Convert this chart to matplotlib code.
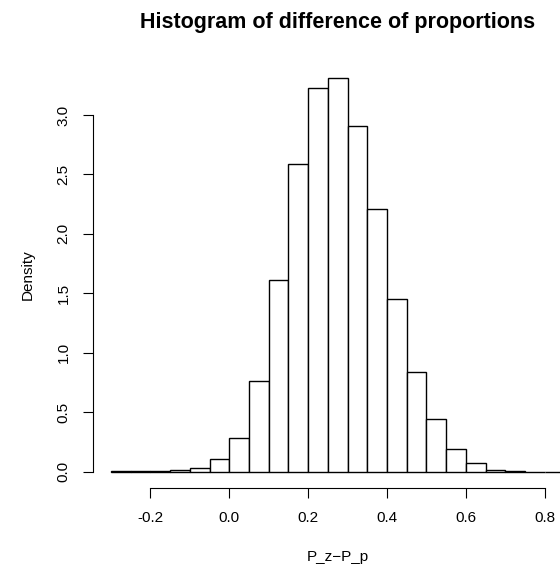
import matplotlib
matplotlib.use("Agg")
import matplotlib.pyplot as plt
import numpy as np

# histogram: bin edges (width 0.05) and density per bin
bin_left = [-0.30, -0.25, -0.20, -0.15, -0.10, -0.05, 0.00, 0.05, 0.10, 0.15,
            0.20, 0.25, 0.30, 0.35, 0.40, 0.45, 0.50, 0.55, 0.60, 0.65,
            0.70, 0.75, 0.80]
bin_width = 0.05
density = [0.003, 0.005, 0.006, 0.015, 0.034, 0.107, 0.285, 0.76, 1.616, 2.586,
           3.23, 3.31, 2.91, 2.21, 1.453, 0.836, 0.44, 0.195, 0.073, 0.016,
           0.006, 0.002, 0.001]

x_ticks = [-0.2, 0.0, 0.2, 0.4, 0.6, 0.8]
x_ticklabels = ["-0.2", "0.0", "0.2", "0.4", "0.6", "0.8"]
y_ticks = [0.0, 0.5, 1.0, 1.5, 2.0, 2.5, 3.0]
y_ticklabels = ["0.0", "0.5", "1.0", "1.5", "2.0", "2.5", "3.0"]


def main():
    plt.rcParams['font.family'] = ['Liberation Sans', 'DejaVu Sans']

    fig = plt.figure(figsize=(5.6, 5.73), dpi=100)
    ax = fig.add_axes([0.1659, 0.1492, 0.8745, 0.742])

    ax.bar(bin_left, density, width=bin_width, align='edge',
           color='white', edgecolor='black', linewidth=1.0)

    # R style axis limits: 4% padding around the data range
    xmin, xmax = bin_left[0], bin_left[-1] + bin_width
    pad = 0.04 * (xmax - xmin)
    ax.set_xlim(xmin - pad, xmax + pad)
    ymax = max(density)
    ax.set_ylim(-0.04 * ymax, 1.04 * ymax)

    for side in ['top', 'right']:
        ax.spines[side].set_visible(False)
    ax.spines['left'].set_bounds(y_ticks[0], y_ticks[-1])
    ax.spines['bottom'].set_bounds(x_ticks[0], x_ticks[-1])

    ax.set_xticks(x_ticks, labels=x_ticklabels)
    ax.set_yticks(y_ticks, labels=y_ticklabels)
    ax.tick_params(axis='both', direction='out', length=7, width=0.8,
                   labelsize=11)
    ax.tick_params(axis='x', pad=10)
    ax.tick_params(axis='y', pad=9)
    for lab in ax.get_yticklabels():
        lab.set_rotation(90)
        lab.set_va('center')

    ax.set_xlabel("P_z\u2212P_p", fontsize=11, labelpad=18)
    ax.set_ylabel("Density", fontsize=11, labelpad=16)
    ax.set_title("Histogram of difference of proportions",
                 fontsize=15.5, fontweight='bold', pad=25)

    fig.savefig("out.png", dpi=100)


if __name__ == "__main__":
    main()
